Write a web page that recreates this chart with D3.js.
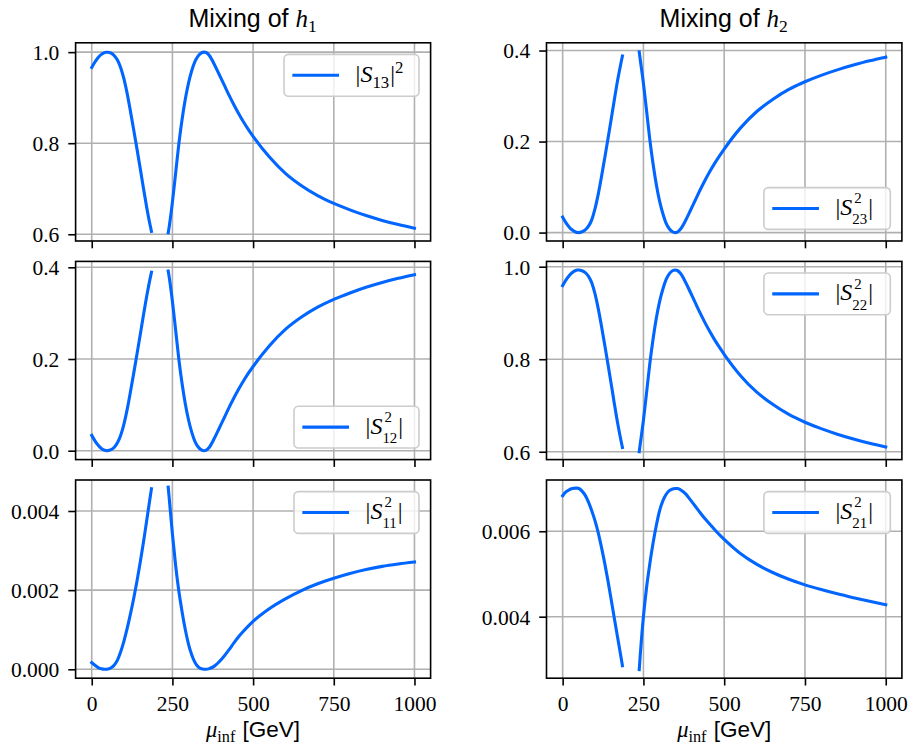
<!DOCTYPE html>
<html><head><meta charset="utf-8">
<script src="https://cdn.jsdelivr.net/npm/d3@7"></script>
<style>body{margin:0;background:#fff} svg{display:block} text{white-space:pre}</style>
</head><body>
<svg id="chart" width="912" height="749"></svg>
<script>
// ---------------- data ----------------
const muLow  = [0,10,20,30,40,45,50,60,70,80,90,100,110,120,130,140,150,160,170,180,185];
const muHigh = [237,240,250,260,270,280,290,300,310,320,330,340,348,355,365,380,395,410,425,440,455,470,485,500,550,600,650,700,750,800,850,900,950,1000];

// Mixing of h1
const s13Low  = [0.9663,0.9784,0.9882,0.9951,0.9990,0.9999,0.9999,0.9978,0.9922,0.9821,0.9654,0.9406,0.9083,0.8699,0.8295,0.7881,0.7456,0.7021,0.6606,0.6230,0.6062];
const s13High = [0.6034,0.6167,0.6706,0.7344,0.7990,0.8526,0.8970,0.9324,0.9596,0.9798,0.9919,0.9983,1.0000,0.9987,0.9920,0.9729,0.9508,0.9287,0.9060,0.8848,0.8652,0.8470,0.8304,0.8151,0.7700,0.7337,0.7065,0.6848,0.6677,0.6536,0.6410,0.6304,0.6213,0.6133];
const s12Low  = [0.0335,0.0215,0.0118,0.0049,0.0010,0.0001,0.0001,0.0022,0.0077,0.0177,0.0342,0.0587,0.0907,0.1287,0.1687,0.2097,0.2517,0.2947,0.3357,0.3727,0.3892];
const s12High = [0.392,0.379,0.326,0.263,0.199,0.146,0.102,0.067,0.040,0.020,0.008,0.0017,0.0,0.0013,0.008,0.027,0.049,0.071,0.0935,0.1145,0.134,0.152,0.1685,0.1837,0.2285,0.2645,0.2915,0.313,0.330,0.344,0.3565,0.367,0.376,0.384];
const s11Low  = [0.00017,0.0001,0.000044,0.000012,0.0,0.000002,0.000007,0.00004,0.00011,0.00024,0.00045,0.00072,0.00104,0.0014,0.00179,0.00222,0.00269,0.0032,0.00374,0.00429,0.00456];
const s11High = [0.0046,0.00433,0.00342,0.00262,0.00197,0.00145,0.001,0.00063,0.00036,0.00017,0.00006,0.000012,0.000001,0.0,0.00002,0.00008,0.00019,0.00033,0.00049,0.00066,0.00082,0.00096,0.00109,0.00121,0.00153,0.00178,0.00199,0.00216,0.0023,0.00242,0.00252,0.0026,0.00266,0.00271];

// Mixing of h2
const s23Low  = [0.034,0.022,0.0125,0.0055,0.0013,0.0002,0.0,0.0018,0.006,0.014,0.028,0.052,0.084,0.122,0.163,0.205,0.248,0.292,0.334,0.371,0.388];
const s23High = [0.397,0.381,0.328,0.266,0.203,0.150,0.105,0.069,0.042,0.021,0.0085,0.0018,0.0,0.0012,0.0078,0.026,0.048,0.0705,0.093,0.114,0.1335,0.1515,0.168,0.1835,0.2295,0.2655,0.2925,0.3145,0.3315,0.3455,0.3575,0.368,0.3775,0.3855];
const s22Low  = [0.9592,0.9711,0.9805,0.9875,0.9917,0.9928,0.9930,0.9913,0.9872,0.9793,0.9655,0.9418,0.9100,0.8724,0.8317,0.7902,0.7476,0.7040,0.6625,0.6259,0.6092];
const s22High = [0.6002,0.6159,0.6680,0.7293,0.7918,0.8443,0.8889,0.9245,0.9513,0.9721,0.9846,0.9912,0.9930,0.9918,0.9852,0.9671,0.9453,0.9229,0.9006,0.8797,0.8603,0.8425,0.8261,0.8107,0.7650,0.7293,0.7025,0.6806,0.6638,0.6499,0.6380,0.6276,0.6182,0.6102];
const s21Low  = [0.00683,0.00692,0.00697,0.00700,0.00701,0.00701,0.00700,0.00694,0.00684,0.00668,0.00648,0.00625,0.00597,0.00563,0.00526,0.00485,0.00441,0.00396,0.00352,0.00308,0.00285];
const s21High = [0.00276,0.00308,0.00400,0.00470,0.00525,0.00573,0.00614,0.00648,0.00671,0.00686,0.00695,0.00699,0.00700,0.00700,0.00697,0.00688,0.00674,0.00659,0.00644,0.00630,0.00617,0.00604,0.00592,0.00581,0.00548,0.00523,0.005035,0.004875,0.004745,0.004635,0.004535,0.004445,0.00436,0.00428];

// ticks
const xTicks = [0,250,500,750,1000];
const xTickLabels = ["0","250","500","750","1000"];
const yTicksHigh = [0.6,0.8,1.0],     yLabelsHigh = ["0.6","0.8","1.0"];
const yTicksMid  = [0.0,0.2,0.4],     yLabelsMid  = ["0.0","0.2","0.4"];
const yTicks11   = [0.0,0.002,0.004], yLabels11   = ["0.000","0.002","0.004"];
const yTicks21   = [0.004,0.006],     yLabels21   = ["0.004","0.006"];

const titleTexts = ["Mixing of ", "Mixing of "];
const titleSubs  = ["1", "2"];
const legendIdx  = ["13","12","11","23","22","21"];

// ---------------- layout ----------------
const COLOR = "#0066ff";
const SERIF = "'Liberation Serif', 'DejaVu Serif', serif";
const SANS  = "'Liberation Sans', Arial, sans-serif";
const COLS = [{x0:75.6,x1:430.6},{x0:546.5,x1:901.9}];
const ROWS = [{y0:42.8,y1:241},{y0:261.4,y1:459.6},{y0:480,y1:678.2}];
const FS = 21.5;
const LFS = 24;

const panels = [
  {r:0,c:0, lo:s13Low, hi:s13High, dom:[0.5852,1.0205],   yt:yTicksHigh, yl:yLabelsHigh, leg:'tr', lab:0, sq:true,  w:135},
  {r:1,c:0, lo:s12Low, hi:s12High, dom:[-0.0194,0.4129],  yt:yTicksMid,  yl:yLabelsMid,  leg:'br', lab:1, w:125},
  {r:2,c:0, lo:s11Low, hi:s11High, dom:[-0.000225,0.004783], yt:yTicks11, yl:yLabels11, leg:'tr', lab:2, w:125},
  {r:0,c:1, lo:s23Low, hi:s23High, dom:[-0.0185,0.417],   yt:yTicksMid,  yl:yLabelsMid,  leg:'br', lab:3, w:126.4},
  {r:1,c:1, lo:s22Low, hi:s22High, dom:[0.583,1.0115],    yt:yTicksHigh, yl:yLabelsHigh, leg:'tr', lab:4, w:126.4},
  {r:2,c:1, lo:s21Low, hi:s21High, dom:[0.00256,0.0072],  yt:yTicks21,   yl:yLabels21,   leg:'tr', lab:5, w:126.4},
];

const svg = d3.select("#chart");
svg.append("rect").attr("width",912).attr("height",749).attr("fill","#fff");

// helper: one <text> element built from tspans (math-like); returns group + width
function mathText(parent, parts, fs) {
  const g = parent.append("g");
  const text = g.append("text").attr("fill","#000").attr("font-family",SERIF).attr("font-size",fs);
  let cx = 0;
  for (const p of parts) {
    if (p.t !== undefined) {
      const ts = text.append("tspan").attr("x",cx).attr("y",0)
        .attr("font-family", p.sans ? SANS : SERIF)
        .attr("font-size", (p.scale||1)*fs)
        .attr("font-style", p.italic ? "italic" : "normal")
        .text(p.t);
      cx += ts.node().getComputedTextLength() + (p.kern||0);
    } else {
      const ss = p.ss || 0.7;
      let w = 0;
      if (p.sup !== undefined) {
        const ts = text.append("tspan").attr("x",cx + (p.supShift||0)).attr("y",-(p.supDy||0.42)*fs)
          .attr("font-size",ss*fs).attr("font-style","normal").text(p.sup);
        w = Math.max(w, ts.node().getComputedTextLength() + (p.supShift||0));
      }
      if (p.sub !== undefined) {
        const ts = text.append("tspan").attr("x",cx).attr("y",(p.subDy!==undefined?p.subDy:0.22)*fs)
          .attr("font-size",ss*fs).attr("font-style","normal").text(p.sub);
        w = Math.max(w, ts.node().getComputedTextLength());
      }
      cx += w + 1;
    }
  }
  return {g, w: cx};
}

const xScales = COLS.map(c => d3.scaleLinear().domain([-50,1050]).range([c.x0, c.x1]));

panels.forEach((p, i) => {
  const C = COLS[p.c], R = ROWS[p.r];
  const x = xScales[p.c];
  const y = d3.scaleLinear().domain(p.dom).range([R.y1, R.y0]);
  const g = svg.append("g");
  const clipId = "clip" + i;
  g.append("clipPath").attr("id", clipId).append("rect")
    .attr("x",C.x0).attr("y",R.y0).attr("width",C.x1-C.x0).attr("height",R.y1-R.y0);

  // grid
  const grid = g.append("g").attr("stroke","#b0b0b0").attr("stroke-width",1.6);
  xTicks.forEach(t => grid.append("line").attr("x1",x(t)).attr("x2",x(t)).attr("y1",R.y0).attr("y2",R.y1));
  p.yt.forEach(t => grid.append("line").attr("x1",C.x0).attr("x2",C.x1).attr("y1",y(t)).attr("y2",y(t)));

  // curves
  const line = d3.line().x(d => x(d[0])).y(d => y(d[1])).curve(d3.curveMonotoneX);
  const segs = [muLow.map((m,k)=>[m,p.lo[k]]), muHigh.map((m,k)=>[m,p.hi[k]])];
  segs.forEach(s => g.append("path").attr("d", line(s)).attr("fill","none")
    .attr("stroke",COLOR).attr("stroke-width",3.1).attr("stroke-linecap","square")
    .attr("stroke-linejoin","round").attr("clip-path",`url(#${clipId})`));

  // frame
  g.append("rect").attr("x",C.x0).attr("y",R.y0).attr("width",C.x1-C.x0).attr("height",R.y1-R.y0)
    .attr("fill","none").attr("stroke","#000").attr("stroke-width",1.6);

  // axes
  const bottom = p.r === 2;
  const ax = g.append("g").attr("transform",`translate(0,${R.y1})`)
    .call(d3.axisBottom(x).tickValues(xTicks).tickSize(7.3).tickSizeOuter(0).tickPadding(10)
      .tickFormat((d,k) => bottom ? xTickLabels[k] : ""));
  const ay = g.append("g").attr("transform",`translate(${C.x0},0)`)
    .call(d3.axisLeft(y).tickValues(p.yt).tickSize(7.3).tickSizeOuter(0).tickPadding(9)
      .tickFormat((d,k) => p.yl[k]));
  [ax, ay].forEach(a => {
    a.select(".domain").remove();
    a.selectAll(".tick line").attr("stroke","#000").attr("stroke-width",1.6);
    a.selectAll("text").attr("font-family",SERIF).attr("font-size",FS).attr("fill","#000");
  });
  ay.selectAll("text").attr("dy","0.34em");

  // legend
  const bw = p.w, bh = 41.8, pad = 11.6;
  const bx = C.x1 - pad - bw;
  const by = p.leg === 'tr' ? R.y0 + pad : R.y1 - pad - bh;
  const lg = g.append("g");
  lg.append("rect").attr("x",bx).attr("y",by).attr("width",bw).attr("height",bh)
    .attr("rx",4.5).attr("fill","#fff").attr("fill-opacity",0.8)
    .attr("stroke","#cccccc").attr("stroke-width",1.6);
  const cy = by + bh/2;
  lg.append("line").attr("x1",bx+9.9).attr("x2",bx+53.5).attr("y1",cy).attr("y2",cy)
    .attr("stroke",COLOR).attr("stroke-width",3.1).attr("stroke-linecap","square");
  const idx = legendIdx[p.lab];
  const parts = p.sq
    ? [{t:"|"},{t:"S",italic:true,kern:0},{sub:idx,subDy:0.25},{t:"|"},{sup:"2",supDy:0.4}]
    : [{t:"|"},{t:"S",italic:true,kern:0},{sup:"2",sub:idx,supShift:2,subDy:0.38,supDy:0.48,ss:0.62},{t:"|"}];
  const mt = mathText(lg, parts, LFS);
  mt.g.attr("transform",`translate(${bx+71.6},${cy+(p.sq?7:6.5)})`);
});

// titles
COLS.forEach((C, c) => {
  const mt = mathText(svg, [{t:titleTexts[c], sans:true}, {t:"h", italic:true, kern:0}, {sub:titleSubs[c], subDy:0.2}], 25);
  const cx = (C.x0 + C.x1)/2;
  mt.g.attr("transform",`translate(${cx - mt.w/2},26.7)`);
});

// x labels
COLS.forEach((C) => {
  const mt = mathText(svg, [{t:"\u03bc", italic:true, kern:0},{sub:"inf", subDy:0.22, ss:0.72},{t:" [GeV]", sans:true}], 22.5);
  const cx = (C.x0 + C.x1)/2;
  mt.g.attr("transform",`translate(${cx - mt.w/2},736.7)`);
});
</script>
</body></html>
